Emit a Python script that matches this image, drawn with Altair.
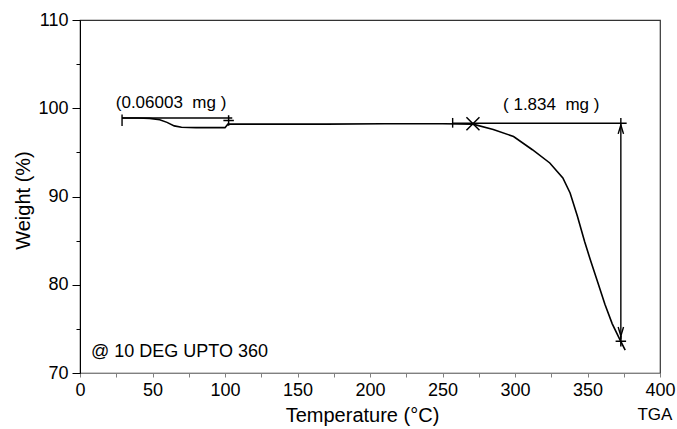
import altair as alt
import pandas as pd

# ---- data ----
temp_c = [29, 40, 48, 55, 60, 65, 70, 80, 90, 100, 102, 130, 170, 210, 250,
          271, 285, 299, 312, 324, 333, 338, 343, 348, 352, 357, 362, 367, 372, 376]
weight_pct = [98.9, 98.9, 98.85, 98.7, 98.4, 98.0, 97.85, 97.8, 97.8, 97.8, 98.2,
              98.2, 98.2, 98.25, 98.25, 98.2, 97.6, 96.8, 95.3, 93.8, 92.1, 90.4,
              87.8, 84.9, 82.8, 80.3, 77.8, 75.6, 73.9, 72.6]

# annotation segments (temperature / weight coordinates)
seg_t1 = [29, 29, 257, 257, 373]
seg_t2 = [105, 29, 377, 257, 373]
seg_w1 = [98.9, 98.0, 98.3, 97.8, 98.9]
seg_w2 = [98.9, 99.3, 98.3, 98.9, 73.8]

# markers
mark_t = [102.5, 373, 271, 373, 373]
mark_w = [98.6, 73.6, 98.25, 97.6, 74.7]
mark_kind = ["plus", "plus", "x", "up", "down"]

# texts
text_t = [62.8, 325, 7.6, 396.5]
text_w = [100.65, 100.35, 72.4, 65.2]
text_s = ["(0.06003\u00a0\u00a0mg\u00a0)", "(\u00a01.834\u00a0\u00a0mg\u00a0)",
          "@ 10 DEG UPTO 360", "TGA"]
text_align = ["center", "center", "left", "center"]

x_ticks = list(range(0, 401, 25))
y_ticks = list(range(70, 111, 5))

FONT = "Liberation Sans"

curve_df = pd.DataFrame({"T": temp_c, "W": weight_pct})
seg_df = pd.DataFrame({"T": seg_t1, "T2": seg_t2, "W": seg_w1, "W2": seg_w2})
mark_df = pd.DataFrame({"T": mark_t, "W": mark_w, "k": mark_kind})
text_df = pd.DataFrame({"T": text_t, "W": text_w, "s": text_s, "a": text_align})

x_scale = alt.Scale(domain=[0, 400], nice=False, zero=False)
y_scale = alt.Scale(domain=[70, 110], nice=False, zero=False)

x_axis = alt.Axis(
    values=x_ticks,
    labelExpr="datum.value % 50 === 0 ? datum.label : ''",
    title="Temperature (°C)", titleFontSize=20, titleFontWeight="normal",
    titleX=282, titleY=42, titleBaseline="middle", titleFont=FONT, titleColor="black",
    labelFontSize=18, labelFont=FONT, labelPadding=4, labelColor="black",
    labelOverlap=False, labelFlush=False,
    tickSize=4, tickColor="#808080", domainColor="#808080", grid=False,
)
y_axis = alt.Axis(
    values=y_ticks,
    labelExpr="datum.value % 10 === 0 ? datum.label : ''",
    title="Weight (%)", titleFontSize=20, titleFontWeight="normal",
    titleX=-57, titleY=180, titleBaseline="middle", titleFont=FONT, titleColor="black",
    labelFontSize=18, labelFont=FONT, labelPadding=4, labelColor="black",
    labelOverlap=False, labelFlush=False,
    tickSize={"condition": {"test": "datum.value % 10 === 0", "value": 8}, "value": 4},
    tickColor="black", domainColor="black", grid=False,
)

X = alt.X("T:Q", scale=x_scale, axis=x_axis)
Y = alt.Y("W:Q", scale=y_scale, axis=y_axis)

curve = alt.Chart(curve_df).mark_line(color="black", strokeWidth=1.6).encode(x=X, y=Y)

segs = alt.Chart(seg_df).mark_rule(color="black", strokeWidth=1.4).encode(
    x=X, x2="T2:Q", y=Y, y2="W2:Q")

plus = alt.Chart(mark_df).transform_filter("datum.k === 'plus'").mark_point(
    shape="M-1,0L1,0M0,-1L0,1", size=110, filled=False, color="black",
    strokeWidth=1.5, opacity=1).encode(x=X, y=Y)
xmark = alt.Chart(mark_df).transform_filter("datum.k === 'x'").mark_point(
    shape="M-1,-1L1,1M-1,1L1,-1", size=170, filled=False, color="black",
    strokeWidth=1.5, opacity=1).encode(x=X, y=Y)
up = alt.Chart(mark_df).transform_filter("datum.k === 'up'").mark_point(
    shape="M-0.6,1L0,-1L0.6,1", size=80, filled=False, color="black",
    strokeWidth=1.4, opacity=1).encode(x=X, y=Y)
down = alt.Chart(mark_df).transform_filter("datum.k === 'down'").mark_point(
    shape="M-0.6,-1L0,1L0.6,-1", size=80, filled=False, color="black",
    strokeWidth=1.4, opacity=1).encode(x=X, y=Y)

texts_c = alt.Chart(text_df).transform_filter("datum.a === 'center'").mark_text(
    font=FONT, fontSize=17, align="center", baseline="middle", color="black"
).encode(x=X, y=Y, text="s:N")
texts_l = alt.Chart(text_df).transform_filter("datum.a === 'left'").mark_text(
    font=FONT, fontSize=18, align="left", baseline="middle", color="black"
).encode(x=X, y=Y, text="s:N")

chart = alt.layer(curve, segs, plus, xmark, up, down, texts_c, texts_l).properties(
    width=580, height=353,
    autosize=alt.AutoSizeParams(type="none"),
    padding={"left": 80, "top": 20, "right": 17, "bottom": 56},
    background="white",
).configure_view(stroke="#333333", strokeWidth=1.2)

chart.save("out.html", embed_options={"renderer": "svg", "actions": False})
